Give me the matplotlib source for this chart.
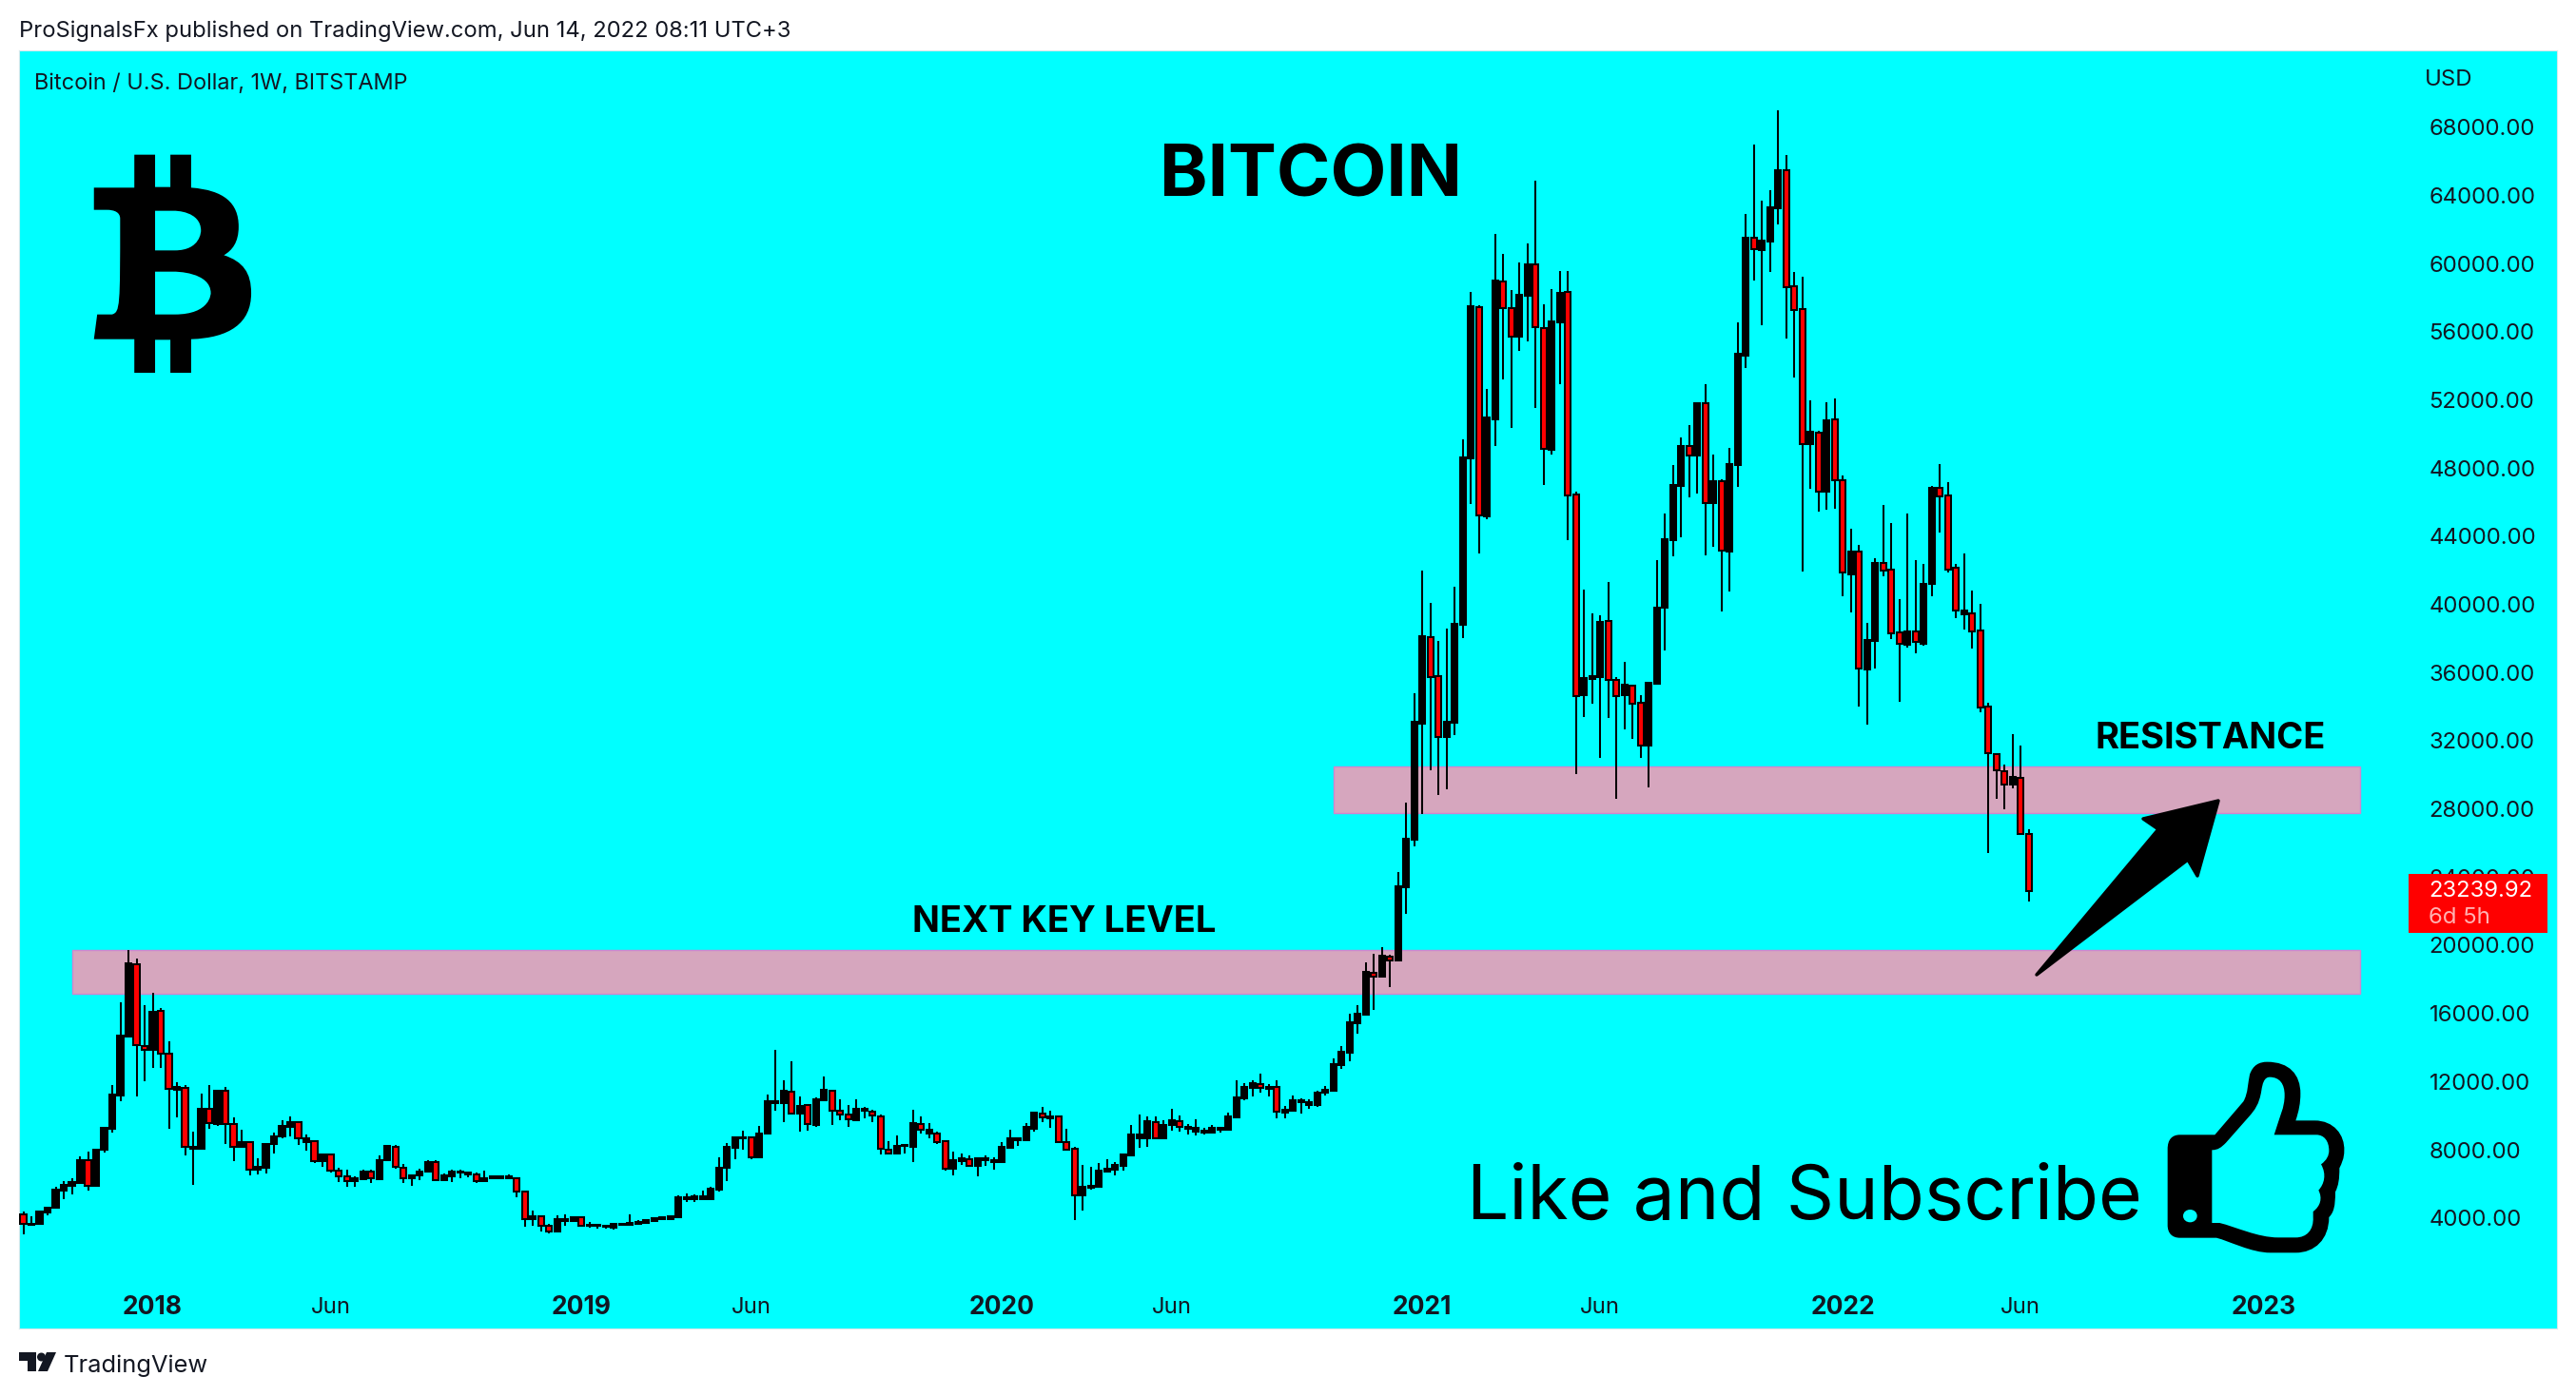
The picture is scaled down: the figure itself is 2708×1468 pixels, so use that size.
import numpy as np
import matplotlib
matplotlib.use("Agg")
import matplotlib.pyplot as plt
from matplotlib.patches import PathPatch, Polygon, Rectangle
from matplotlib.path import Path
from matplotlib.transforms import Affine2D, ScaledTranslation

W, H = 2708, 1468

opens = [4250,3650,3690,4390,4640,5670,5950,6110,7420,5910,
	8030,9300,11260,14700,18960,14130,13890,16190,13670,11600,
	11710,8090,8090,10450,9580,11500,9540,8230,8490,6860,
	7020,8370,8840,9420,9650,8530,8550,7360,7770,6820,
	6470,6210,6350,6760,6350,7420,8230,7020,6370,6530,
	6780,7320,6270,6510,6700,6700,6580,6210,6390,6410,
	6390,6370,5610,3970,4130,3570,3260,3890,3850,4070,
	3570,3570,3510,3480,3630,3630,3730,3770,3890,3990,
	4000,4100,5180,5180,5180,5160,5710,6980,8190,8730,
	8770,7630,8990,10770,10770,11480,10200,10660,9530,10980,
	11540,10330,10140,9810,10330,10310,10030,8080,7850,8260,
	8240,9580,9030,9030,8540,6920,7410,7520,7110,7430,
	7350,7350,8190,8600,8630,9300,10200,9900,9990,8520,
	8100,5360,5840,5900,6790,6890,7130,7700,8750,8750,
	9700,8750,9490,9750,9290,9120,9080,9080,9250,9250,
	9970,11070,11700,11930,11650,11720,10250,10330,10830,10700,
	10700,11390,11520,13020,13750,15500,15980,18460,18200,19400,
	19160,23470,26270,33080,38160,35830,32290,33120,38870,48640,
	57480,45240,50930,58990,57420,55790,58170,59990,56250,49150,
	56600,58370,46490,34730,35700,35810,39060,35600,34750,35270,
	34270,31770,35400,39860,43830,47010,49350,48790,51840,46020,
	47290,43160,48240,54650,61550,60850,61350,63300,65540,58700,
	57360,49450,50110,46680,50910,47340,41820,43140,36260,37930,
	42470,42080,38390,37710,38450,37760,41240,46880,46430,42190,
	39500,39510,38510,34080,31290,30290,29470,29890,26570]
closes = [3690,3730,4430,4660,5730,6010,6150,7440,5910,8070,
	9340,11280,14760,18980,14190,13890,16130,13690,11630,11730,
	8230,8210,10450,9610,11540,9560,8230,8490,6880,7040,
	8410,8840,9440,9670,8720,8720,7360,7770,6820,6470,
	6210,6370,6780,6390,7440,8270,7080,6370,6530,6780,
	7340,6270,6530,6780,6780,6600,6190,6410,6490,6490,
	6490,5610,3990,4130,3590,3260,3970,4010,4090,3590,
	3630,3650,3590,3710,3730,3750,3810,3930,4050,4070,
	4150,5250,5270,5310,5310,5750,6980,8230,8770,8800,
	7630,8990,10890,10890,11500,10200,10610,9550,11000,11560,
	10330,10140,9830,10440,10440,10050,8100,7850,8300,8340,
	9600,9210,9210,8520,6920,7430,7540,7130,7540,7540,
	7440,8210,8710,8710,9380,10220,9940,9990,8520,8040,
	5360,5860,5940,6810,6920,7170,7760,8930,8930,9710,
	8750,9490,9770,9380,9400,9320,9170,9340,9340,10010,
	11110,11720,11950,11670,11740,10270,10380,10940,10940,10830,
	11390,11560,13060,13790,15520,16020,18470,18200,19420,19180,
	23500,26310,33150,38180,35810,32290,33150,38910,48680,57550,
	45260,51020,59060,57420,55790,58220,60010,56310,49160,56660,
	58330,46470,34690,35740,35850,39030,35600,34690,35340,34250,
	31790,35460,39860,43880,47060,49350,48790,51860,46020,47290,
	43230,48290,54750,61570,60910,61410,63360,65540,58680,57340,
	49470,50190,46680,50850,47360,41900,43150,36310,37950,42490,
	42060,38380,37730,38470,37840,41260,46900,46410,42110,39720,
	39700,38490,34020,31310,30300,29470,29910,26600,23240]
highs = [4430,4150,4430,4660,5870,6210,6370,7690,7930,8130,
	9380,11850,16700,19750,19280,16550,17260,16350,14410,12030,
	11850,9120,11360,11850,11600,11730,9950,9220,8550,7540,
	8450,9080,9790,10010,9710,8940,8620,7830,7810,7020,
	6880,6510,6880,6880,7710,8300,8330,7220,6540,6940,
	7420,7440,6680,6880,6880,6760,6720,6840,6550,6550,
	6590,6450,5610,4490,4150,3690,4230,4270,4150,4130,
	3790,3730,3630,3750,3740,4270,3930,3990,4090,4130,
	4190,5360,5470,5420,5640,5860,7590,8430,8840,9170,
	8780,9450,11290,13920,12130,13250,11160,10740,11110,12350,
	11570,11020,10680,11020,10570,10420,10100,8560,8900,8410,
	10380,10010,9620,9100,8560,7950,7820,7700,7560,7720,
	7590,8500,9230,8780,9620,10230,10570,10330,10050,9270,
	8230,7170,7040,7260,7500,7310,7820,9490,10120,10010,
	10010,9790,10460,10050,9580,9830,9340,9490,9380,10230,
	12130,11950,12130,12520,11910,12130,10610,11240,11070,11030,
	11540,11800,13420,14140,16040,16540,19050,19530,19940,19480,
	24350,28430,34850,42030,40150,37910,38630,41090,49740,58390,
	57610,52700,61790,60620,58500,60120,61240,64920,57660,58560,
	59620,59620,46670,40920,39530,39420,41370,35790,36680,35340,
	34730,35510,42650,45390,48230,49850,50580,51920,52980,48850,
	47400,49240,56610,62970,67030,63740,64360,69040,66430,59560,
	59280,52020,50230,51920,52140,47620,44490,43550,38970,42770,
	45890,44830,40370,45390,42650,42430,47010,48290,47230,42410,
	43040,40870,40090,34270,31300,30640,32440,31770,26840]
lows = [3080,3570,3690,4230,4640,5160,5460,6070,5650,5910,
	7870,9080,10920,14700,11200,12090,12860,12860,9300,9970,
	7710,6010,8090,9300,9480,8410,7400,8170,6530,6580,
	6680,7850,8700,8860,8310,8010,7280,7060,6700,6170,
	5870,5870,6350,6130,6350,7400,6960,6090,5950,6290,
	6780,6210,6270,6170,6390,6450,6130,6210,6350,6310,
	6310,5280,3550,3610,3280,3160,3240,3610,3790,3550,
	3480,3440,3400,3380,3620,3620,3720,3730,3890,3970,
	3950,4100,5010,5010,5080,5120,5620,6220,7520,8080,
	7520,7570,8990,10360,9680,10140,9140,9170,9400,10980,
	9530,9790,9400,9810,9900,9680,7780,7800,7850,7850,
	7330,9030,8750,8410,6850,6570,7170,7070,6510,7130,
	6890,7350,8130,8260,8630,9140,9680,9340,8470,8040,
	3950,4510,5730,5900,6770,6570,6850,7690,8190,8230,
	8730,8690,9170,9140,8950,8900,8970,9080,9080,9190,
	9970,10980,11180,11410,11200,9920,9920,10270,10180,10460,
	10590,11240,11480,12800,13250,14870,15930,16280,18140,17600,
	19080,21890,25860,27770,30330,28880,29220,32400,38080,45950,
	43040,45070,49350,53260,50410,54930,55490,51580,47060,48850,
	52980,43830,30100,33450,34230,31050,33390,28650,32720,32160,
	31050,29320,35340,37350,42880,43990,46340,46560,42930,43440,
	39640,40810,46940,53920,59060,56430,59560,62350,55650,53360,
	41980,46840,45510,45610,45670,40520,39590,34060,33000,36290,
	41710,38020,34340,37520,37190,37630,40530,44270,41930,39250,
	38580,37460,33730,25490,28650,28030,29260,26550,22620]

price_ticks = [4000,8000,12000,16000,20000,24000,28000,32000,36000,40000,44000,
	48000,52000,56000,60000,64000,68000]
date_ticks = [16,38,69,90,121,142,173,195,225,247,277]
date_labels = ["2018","Jun","2019","Jun","2020","Jun","2021","Jun","2022","Jun","2023"]
last_price = "23239.92"
countdown = "6d 5h"

# zones: left index, right index, low, high
zone_low = [6.06, 289.0, 17210, 19750]
zone_high = [162.0, 289.0, 27810, 30560]
zones = [zone_low, zone_high]

plt.rcParams['font.family'] = ['Inter', 'DejaVu Sans']
INK = "#131722"
CYAN = "#00FFFF"

fig = plt.figure(figsize=(W/100, H/100), dpi=100, facecolor="white")
ax = fig.add_axes([20/W, (H-1397)/H, 2668/W, 1344/H], facecolor=CYAN)
ax.set_xlim(-0.53, 313.3)
ax.set_ylim(-2433, 72562)

px = Affine2D().scale(1, -1).translate(0, H)	# figure pixels, top left origin

for left, right, low, high in zones:
	ax.add_patch(Rectangle((left, low), right-left, high-low, facecolor="#D6A6BE",
		edgecolor="#CF86CF", linewidth=1.0, zorder=1))

x = np.arange(len(opens))
o = np.array(opens, dtype=float)
c = np.array(closes, dtype=float)
up = c >= o
ax.vlines(x, lows, highs, color="black", linewidth=1.45, zorder=2)
ax.bar(x[up], (c-o)[up], bottom=o[up], width=0.72, facecolor="black", edgecolor="black",
	linewidth=1.45, zorder=3)
ax.bar(x[~up], (o-c)[~up], bottom=c[~up], width=0.72, facecolor="#FF0000", edgecolor="black",
	linewidth=1.45, zorder=3)

ax.set_yticks(price_ticks)
ax.set_yticklabels(["%.2f" % p for p in price_ticks])
ax.yaxis.tick_right()
ax.tick_params(axis="y", length=0, pad=-96.8, labelsize=17.2, labelcolor=INK)
ax.set_xticks(date_ticks)
ax.set_xticklabels(date_labels)
ax.tick_params(axis="x", length=0, pad=-15.5, labelsize=17.2, labelcolor=INK)
for lab in ax.get_xticklabels():
	lab.set_va("center")
	if lab.get_text() != "Jun":
		lab.set_fontweight("bold")
		lab.set_fontsize(19)
up_shift = ScaledTranslation(0, 1.0/100, fig.dpi_scale_trans)
for lab in ax.get_yticklabels(which="major"):
	lab.set_transform(lab.get_transform() + up_shift)
for s in ax.spines.values():
	s.set_color("#D5E8EC")
	s.set_linewidth(0.8)

def label(xp, yp, s, size, **kw):
	kw.setdefault("va", "center")
	kw.setdefault("color", "black")
	fig.text(xp/W, 1-yp/H, s, fontsize=size, zorder=6, **kw)

label(20, 33, "ProSignalsFx published on TradingView.com, Jun 14, 2022 08:11 UTC+3", 17.1, color=INK)
label(36, 88, "Bitcoin / U.S. Dollar, 1W, BITSTAMP", 16.9, color=INK)
label(2549, 84, "USD", 17.2, color=INK)
label(1378, 187, "BITCOIN", 55, ha="center", fontweight="bold")
label(1119, 970, "NEXT KEY LEVEL", 27.4, ha="center", fontweight="bold")
label(2324, 777, "RESISTANCE", 27.4, ha="center", fontweight="bold")
label(1542, 1261, "Like and Subscribe", 56.6)
label(67, 1436, "TradingView", 18.3, color=INK)

# last price tag
fig.add_artist(Rectangle((2532, 919), 146, 62, transform=px, facecolor="#FF0000", edgecolor="none", zorder=5))
label(2553, 937, last_price, 17.2, color="white")
label(2553, 965, countdown, 17.2, color="#FFB2B2")

# arrow
fig.add_artist(Polygon([(2141, 1025), (2269, 872), (2253, 861), (2332, 842), (2310, 921), (2300, 904)],
	closed=True, transform=px, facecolor="black", edgecolor="black", linewidth=2.5, joinstyle="round", zorder=5))

M, L, C4, Z = Path.MOVETO, Path.LINETO, Path.CURVE4, Path.CLOSEPOLY

def build(cmds):
	verts, codes = [], []
	for cmd in cmds:
		if len(cmd) == 1:
			verts.append(cmd[0]); codes.append(L)
		else:
			for p in cmd:
				verts.append(p); codes.append(C4)
	return verts, codes

def shape(loops, sx, sy, ox, oy):
	verts, codes = [], []
	for loop in loops:
		v, k = build(loop)
		k[0] = M
		verts += v + [v[0]]
		codes += k + [Z]
	return Path([(ox+a/sx, oy+b/sy) for a, b in verts], codes)

# bitcoin logo
btc_outer = [[(246,488)],[(284,488)],[(284,590)],[(312,590)],[(312,488)],[(350,488)],[(350,592)],
	[(410,600),(437,640),(437,715)],[(437,765),(425,790),(410,805)],[(445,825),(460,860),(460,925)],
	[(460,1020),(420,1066),(350,1070)],[(350,1176)],[(312,1176)],[(312,1072)],[(284,1072)],[(284,1176)],
	[(246,1176)],[(246,1070)],[(172,1070)],[(178,992)],[(205,992)],[(220,985),(220,965)],[(220,690)],
	[(220,670),(210,662),(195,662)],[(172,662)],[(172,592)],[(246,592)]]
btc_hole1 = [[(284,665)],[(284,790)],[(320,790)],[(368,790),(368,728),(368,728)],[(368,665),(320,665),(320,665)]]
btc_hole2 = [[(284,857)],[(284,992)],[(320,992)],[(386,992),(386,925),(386,925)],[(386,857),(320,857),(320,857)]]
fig.add_artist(PathPatch(shape([btc_outer, btc_hole1, btc_hole2], 1.742, 3, 0, 0), transform=px,
	facecolor="black", edgecolor="none", zorder=5))

# thumbs up
th_outer = [[(275,340)],[(385,340)],[(475,235)],[(490,210),(490,170),(495,150)],[(505,120),(525,110),(550,110)],
	[(620,110),(655,150),(655,210)],[(655,240),(650,265),(640,295)],[(700,295)],[(760,295),(795,340),(793,390)],
	[(793,415),(785,430),(778,445)],[(778,480),(775,500),(765,520)],[(765,565),(760,585),(745,600)],
	[(745,670),(700,712),(640,712)],[(560,712)],[(500,712),(430,675),(390,665)],[(275,665)],
	[(250,665),(236,650),(236,625)],[(236,385)],[(236,355),(250,340),(275,340)]]
th_inner = [[(376,388)],[(376,618)],[(400,618)],[(450,630),(520,664),(585,664)],[(640,664)],
	[(675,664),(697,640),(695,600)],[(695,582)],[(718,565),(725,540),(712,515)],[(730,495),(738,465),(720,433)],
	[(738,420),(745,405),(745,390)],[(745,360),(730,340),(705,340)],[(572,340)],[(590,280),(605,255),(605,215)],
	[(605,180),(590,158),(558,158)],[(540,158),(535,180),(532,200)],[(525,245),(510,262),(495,280)],
	[(420,365)],[(405,380),(395,388),(376,388)]]
# hole runs against the outer loop so it stays open
th_dot = [[(285,596)],[(285,608),(295,616),(307,616)],[(319,616),(329,608),(329,596)],
	[(329,584),(319,576),(307,576)],[(295,576),(285,584),(285,596)]]
fig.add_artist(PathPatch(shape([th_outer, th_inner, th_dot], 3, 3, 2200, 1080), transform=px,
	facecolor="black", edgecolor="none", zorder=5))

# TradingView mark
fig.add_artist(Polygon([(20,1422),(38,1422),(38,1442),(29,1442),(29,1431),(20,1431)], closed=True, transform=px,
	facecolor=INK, edgecolor="none", zorder=5))
fig.add_artist(Polygon([(49,1422),(59,1422),(50,1442),(40,1442)], closed=True, transform=px,
	facecolor=INK, edgecolor="none", zorder=5))
fig.add_artist(PathPatch(Path.circle((43.5, 1427), 4.5), transform=px, facecolor=INK, edgecolor="none", zorder=5))

fig.savefig("out.png", dpi=100, facecolor="white")
